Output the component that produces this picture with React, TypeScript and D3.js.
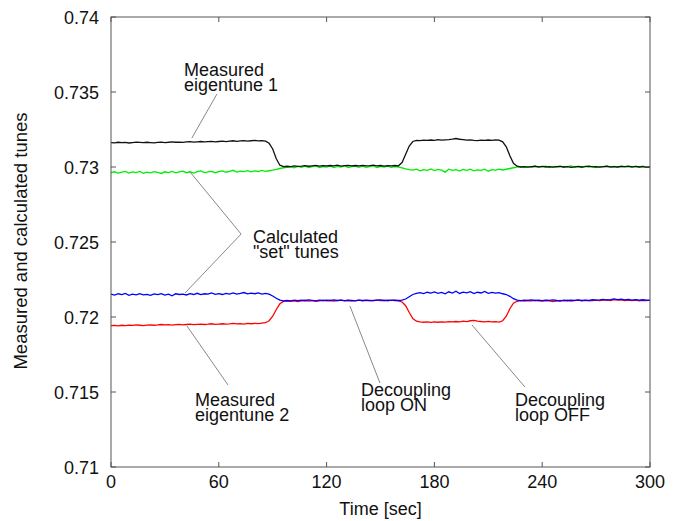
import React from 'react';
import * as d3 from 'd3';

// sampled every 2 s, t = 0..300
const T_STEP = 2;

const eigentune1 = [
  0.73163,0.73161,0.73165,0.73162,0.73164,0.73160,0.73163,0.73166,0.73164,0.73162,
  0.73165,0.73163,0.73161,0.73164,0.73166,0.73163,0.73165,0.73168,0.73165,0.73166,
  0.73164,0.73167,0.73169,0.73166,0.73168,0.73170,0.73167,0.73169,0.73171,0.73168,
  0.73170,0.73172,0.73169,0.73173,0.73175,0.73171,0.73174,0.73176,0.73173,0.73175,
  0.73177,0.73174,0.73176,0.73172,
  0.73158,0.73120,0.73055,0.73012,0.73002,0.73005,
  0.73003,0.73007,0.73004,0.73006,0.73009,0.73005,0.73008,0.73011,0.73006,0.73009,
  0.73007,0.73010,0.73008,0.73012,0.73006,0.73009,0.73011,0.73007,0.73010,0.73008,
  0.73011,0.73007,0.73009,0.73012,0.73008,0.73010,0.73006,0.73009,0.73007,0.73010,
  0.73008,0.73030,0.73085,0.73140,0.73170,
  0.73178,0.73176,0.73179,0.73177,0.73180,0.73178,0.73182,0.73179,0.73181,0.73183,
  0.73186,0.73190,0.73185,0.73182,0.73179,0.73181,0.73178,0.73176,0.73179,0.73177,
  0.73180,0.73178,0.73181,0.73179,0.73168,
  0.73135,0.73075,0.73025,0.73005,0.73000,
  0.73003,0.72999,0.73002,0.73005,0.73001,0.73004,0.73000,0.73003,0.72999,0.73002,
  0.73004,0.73000,0.73003,0.72998,0.73001,0.73004,0.73000,0.73002,0.73006,0.73001,
  0.73003,0.72999,0.73002,0.73005,0.73001,0.73003,0.73000,0.73004,0.73002,0.73006,
  0.73001,0.73004,0.73000,0.73003,0.72997,0.73000,
];

const setTune1 = [
  0.72962,0.72968,0.72959,0.72966,0.72971,0.72960,0.72967,0.72963,0.72970,0.72958,
  0.72966,0.72961,0.72969,0.72964,0.72957,0.72968,0.72963,0.72970,0.72961,0.72967,
  0.72972,0.72962,0.72968,0.72960,0.72969,0.72974,0.72963,0.72967,0.72971,0.72962,
  0.72969,0.72974,0.72965,0.72971,0.72978,0.72966,0.72973,0.72969,0.72976,0.72968,
  0.72974,0.72970,0.72977,0.72971,0.72975,0.72979,0.72984,0.72990,0.72995,0.72998,
  0.73001,0.72995,0.73004,0.72998,0.73006,0.72996,0.73002,0.73008,0.72997,0.73003,
  0.73000,0.73007,0.72996,0.73004,0.72999,0.73009,0.72997,0.73003,0.73006,0.72998,
  0.73005,0.72997,0.73002,0.73007,0.72996,0.73004,0.73000,0.73006,0.72998,0.73003,
  0.73000,0.72994,0.72988,0.72983,0.72979,0.72986,0.72975,0.72983,0.72978,0.72987,
  0.72976,0.72984,0.72979,0.72966,0.72985,0.72977,0.72982,0.72973,0.72984,0.72978,
  0.72986,0.72974,0.72981,0.72977,0.72985,0.72972,0.72983,0.72979,0.72986,0.72980,
  0.72985,0.72990,0.72995,0.72999,0.73002,0.72996,0.73003,0.72998,0.73005,0.72997,
  0.73002,0.73006,0.72996,0.73003,0.72999,0.73005,0.72997,0.73002,0.73007,0.72998,
  0.73003,0.72997,0.73005,0.73000,0.73004,0.72996,0.73003,0.73001,0.73006,0.72998,
  0.73004,0.72999,0.73005,0.73001,0.73003,0.72997,0.73004,0.73000,0.73006,0.72999,
  0.73001,
];

const setTune2 = [
  0.72152,0.72146,0.72155,0.72149,0.72157,0.72145,0.72153,0.72148,0.72156,0.72147,
  0.72151,0.72144,0.72154,0.72149,0.72156,0.72146,0.72152,0.72141,0.72155,0.72150,
  0.72153,0.72147,0.72156,0.72150,0.72158,0.72149,0.72155,0.72152,0.72160,0.72151,
  0.72156,0.72150,0.72158,0.72153,0.72161,0.72152,0.72157,0.72163,0.72154,0.72159,
  0.72155,0.72161,0.72153,0.72158,0.72152,0.72140,0.72125,0.72113,0.72107,0.72110,
  0.72108,0.72112,0.72109,0.72113,0.72110,0.72114,0.72111,0.72108,0.72112,0.72110,
  0.72113,0.72111,0.72114,0.72110,0.72112,0.72109,0.72113,0.72111,0.72108,0.72112,
  0.72110,0.72113,0.72111,0.72109,0.72112,0.72114,0.72110,0.72113,0.72111,0.72112,
  0.72110,0.72113,0.72120,0.72135,0.72150,0.72158,0.72163,0.72156,0.72165,0.72159,
  0.72167,0.72158,0.72164,0.72155,0.72168,0.72160,0.72172,0.72157,0.72166,0.72161,
  0.72169,0.72156,0.72165,0.72160,0.72170,0.72158,0.72164,0.72159,0.72163,0.72155,
  0.72150,0.72138,0.72122,0.72112,0.72109,0.72113,0.72111,0.72114,0.72110,0.72112,
  0.72109,0.72113,0.72111,0.72114,0.72110,0.72106,0.72112,0.72110,0.72113,0.72111,
  0.72114,0.72110,0.72113,0.72111,0.72115,0.72112,0.72114,0.72117,0.72113,0.72116,
  0.72121,0.72116,0.72119,0.72114,0.72117,0.72113,0.72116,0.72112,0.72115,0.72113,
  0.72111,
];

const eigentune2 = [
  0.71942,0.71944,0.71941,0.71945,0.71943,0.71946,0.71944,0.71947,0.71945,0.71943,
  0.71946,0.71948,0.71945,0.71947,0.71950,0.71947,0.71949,0.71946,0.71949,0.71951,
  0.71948,0.71950,0.71952,0.71949,0.71951,0.71953,0.71950,0.71952,0.71955,0.71951,
  0.71953,0.71955,0.71952,0.71954,0.71957,0.71954,0.71956,0.71953,0.71957,0.71955,
  0.71958,0.71956,0.71959,0.71962,0.71975,0.72005,0.72050,0.72088,0.72104,0.72107,
  0.72105,0.72108,0.72103,0.72107,0.72110,0.72106,0.72109,0.72104,0.72108,0.72111,
  0.72107,0.72110,0.72106,0.72109,0.72112,0.72108,0.72110,0.72106,0.72109,0.72112,
  0.72108,0.72111,0.72107,0.72110,0.72113,0.72109,0.72111,0.72108,0.72112,0.72110,
  0.72108,0.72100,0.72075,0.72030,0.71990,0.71972,0.71968,0.71965,0.71968,0.71964,
  0.71967,0.71965,0.71968,0.71966,0.71969,0.71967,0.71970,0.71968,0.71972,0.71969,
  0.71975,0.71978,0.71973,0.71970,0.71968,0.71971,0.71967,0.71969,0.71966,0.71975,
  0.72005,0.72055,0.72092,0.72105,0.72109,0.72106,0.72110,0.72107,0.72111,0.72108,
  0.72106,0.72110,0.72107,0.72103,0.72108,0.72111,0.72107,0.72110,0.72106,0.72109,
  0.72112,0.72108,0.72111,0.72107,0.72110,0.72113,0.72109,0.72112,0.72115,0.72110,
  0.72116,0.72112,0.72114,0.72110,0.72113,0.72109,0.72112,0.72108,0.72111,0.72109,
  0.72112,
];

// draw order: green under black, red under blue
const series = [
  { name: 'calc set 1', values: setTune1, color: '#00ee00' },
  { name: 'eigentune 1', values: eigentune1, color: '#111111' },
  { name: 'eigentune 2', values: eigentune2, color: '#ff0000' },
  { name: 'calc set 2', values: setTune2, color: '#0000ff' },
];

const xTicks = [0, 60, 120, 180, 240, 300];
const yTicks = [0.71, 0.715, 0.72, 0.725, 0.73, 0.735, 0.74];
const yTickLabels = ['0.71', '0.715', '0.72', '0.725', '0.73', '0.735', '0.74'];

// annotation text anchors and pointer lines, in data units (sec, tune)
const annotations = [
  { lines: ['Measured', 'eigentune 1'], at: [40.6, 0.73607], ptrs: [[[59, 0.73487], [45, 0.73193]]] },
  { lines: ['Calculated', '"set" tunes'], at: [79, 0.72493], ptrs: [[[72.4, 0.72553], [44, 0.72967]], [[72.4, 0.72553], [41.2, 0.7216]]] },
  { lines: ['Measured', 'eigentune 2'], at: [46.8, 0.71407], ptrs: [[[42.3, 0.7194], [65.1, 0.71547]]] },
  { lines: ['Decoupling', 'loop ON'], at: [139.1, 0.71473], ptrs: [[[133, 0.72073], [149.7, 0.7156]]] },
  { lines: ['Decoupling', 'loop OFF'], at: [224.9, 0.71407], ptrs: [[[200.9, 0.71947], [230.4, 0.71533]]] },
];

const W = 679, H = 521;
const margin = { top: 17, right: 29, bottom: 54, left: 111 };
const FONT = '"Liberation Sans", Arial, Helvetica, sans-serif';

export default function App() {
  const x = d3.scaleLinear().domain([0, 300]).range([margin.left, W - margin.right]);
  const y = d3.scaleLinear().domain([0.71, 0.74]).range([H - margin.bottom, margin.top]);

  const line = d3.line<number>()
    .x((_, i) => x(i * T_STEP))
    .y(d => y(d));

  const x0 = x(0), x1 = x(300), y0 = y(0.71), y1 = y(0.74);
  const tk = 5;
  const axisColor = '#555';

  return (
    <svg width={W} height={H} style={{ position: 'absolute', left: 0, top: 0, background: '#fff' }}
      fontFamily={FONT}>
      <rect x={0} y={0} width={W} height={H} fill="#fff" />

      {series.map(s => (
        <path key={s.name} d={line(s.values) || ''} fill="none" stroke={s.color} strokeWidth={1.3} />
      ))}

      {/* frame */}
      <rect x={x0} y={y1} width={x1 - x0} height={y0 - y1} fill="none" stroke={axisColor} strokeWidth={1} />

      {xTicks.map(t => (
        <g key={'x' + t}>
          <line x1={x(t)} x2={x(t)} y1={y0} y2={y0 - tk} stroke={axisColor} />
          <line x1={x(t)} x2={x(t)} y1={y1} y2={y1 + tk} stroke={axisColor} />
          <text x={x(t)} y={y0 + 21} textAnchor="middle" fontSize={18} fill="#111">{t}</text>
        </g>
      ))}

      {yTicks.map((v, i) => (
        <g key={'y' + v}>
          <line x1={x0} x2={x0 + tk} y1={y(v)} y2={y(v)} stroke={axisColor} />
          <line x1={x1} x2={x1 - tk} y1={y(v)} y2={y(v)} stroke={axisColor} />
          <text x={99} y={y(v) + 6.5} textAnchor="end" fontSize={18} fill="#111">{yTickLabels[i]}</text>
        </g>
      ))}

      <text x={(x0 + x1) / 2} y={515} textAnchor="middle" fontSize={18} fill="#111">Time [sec]</text>
      <text transform={`translate(27,${(y0 + y1) / 2 - 1}) rotate(-90)`} textAnchor="middle" fontSize={18.5} fill="#111">
        Measured and calculated tunes
      </text>

      {annotations.map((a, k) => (
        <g key={'a' + k}>
          {a.ptrs.map((p, j) => (
            <line key={j} x1={x(p[0][0])} y1={y(p[0][1])} x2={x(p[1][0])} y2={y(p[1][1])}
              stroke="#888" strokeWidth={1} />
          ))}
          {a.lines.map((l, j) => (
            <text key={j} x={x(a.at[0])} y={y(a.at[1]) + j * 15} fontSize={18} fill="#111">{l}</text>
          ))}
        </g>
      ))}
    </svg>
  );
}
